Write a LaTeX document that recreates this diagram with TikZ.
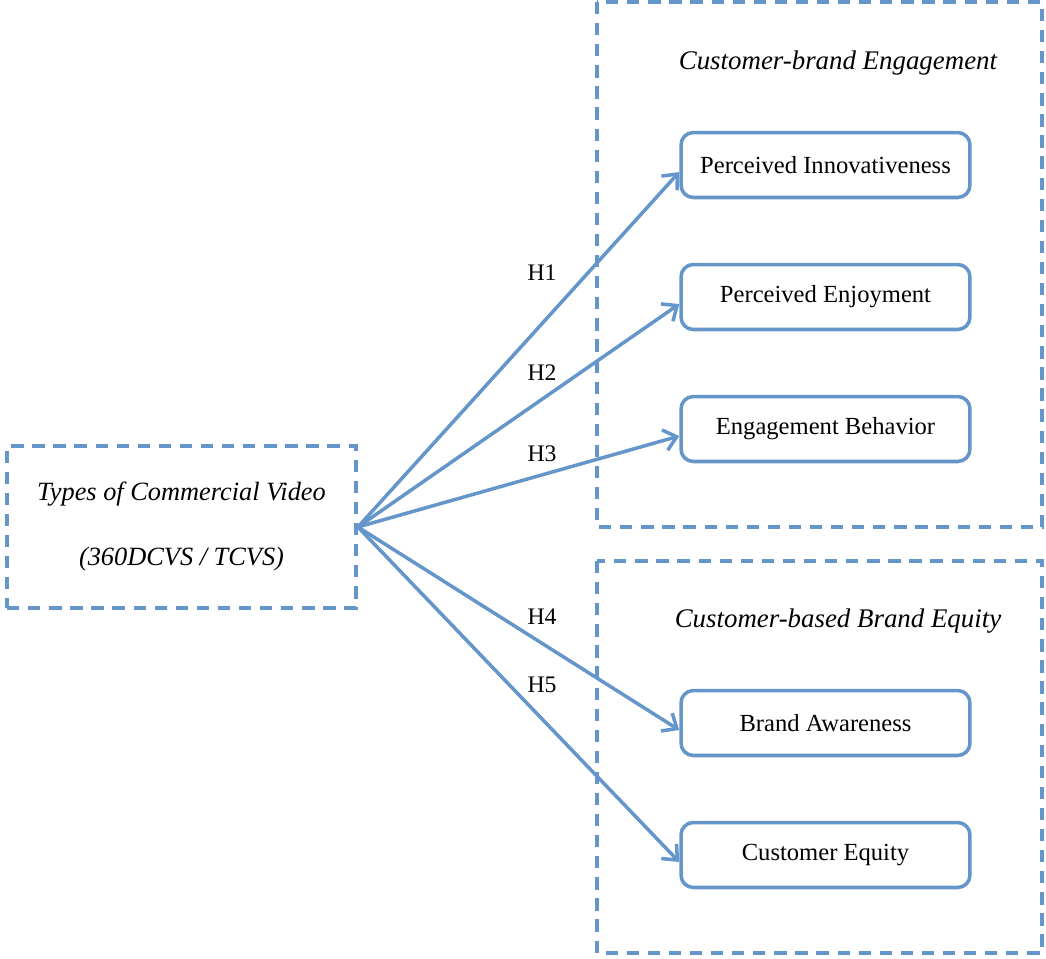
\documentclass[tikz,border=0pt]{standalone}
\usepackage{fontspec}
\setmainfont{Liberation Serif}
\usetikzlibrary{arrows.meta, positioning}
\definecolor{LinkBlue}{RGB}{100,150,202}

\begin{document}
\begin{tikzpicture}[x=0.02cm, y=-0.02cm,
    group/.style={draw=LinkBlue, line width=2.2pt, dash pattern=on 7pt off 5pt},
    factor/.style={draw=LinkBlue, line width=2pt, rounded corners=7pt, fill=white,
      minimum width=5.78cm, minimum height=1.3cm, font=\fontsize{14}{16}\selectfont},
    link/.style={draw=LinkBlue, line width=2pt, -{Straight Barb[length=7pt,width=12pt]}},
    hyp/.style={font=\fontsize{13.5}{16}\selectfont},
    title/.style={font=\itshape\fontsize{15.3}{18}\selectfont}]
  \useasboundingbox (0,0) rectangle (1046,958);

  % the two construct groups
  \draw[group] (597,2) rectangle (1042,527);
  \draw[group] (597,561) rectangle (1042,953);
  \node[title] (engage) at (838,63) {Customer-brand Engagement};
  \node[title] (equity) at (838,621) {Customer-based Brand Equity};

  % independent variable
  \node[group, minimum width=6.98cm, minimum height=3.24cm, align=center,
    font=\itshape\fontsize{15}{37}\selectfont] (types) at (181.5,527)
    {Types of Commercial Video\\(360DCVS / TCVS)};

  % dependent variables
  \foreach \name/\y/\txt in
    {pi/165/Perceived Innovativeness, pe/297/Perceived Enjoyment,
     eb/429/Engagement Behavior, ba/723/Brand Awareness, ce/855/Customer Equity}
    \node[factor] (\name) at (825.5,\y) {\txt};

  % hypotheses
  \foreach \name/\h/\lx/\ly in
    {pi/H1/542/273, pe/H2/542/373, eb/H3/542/454, ba/H4/542/617, ce/H5/542/685}
  {
    \draw[link] (types.east) -- ([yshift=-4pt]\name.west);
    \node[hyp] (lab\h) at (\lx,\ly) {\h};
  }
\end{tikzpicture}
\end{document}
